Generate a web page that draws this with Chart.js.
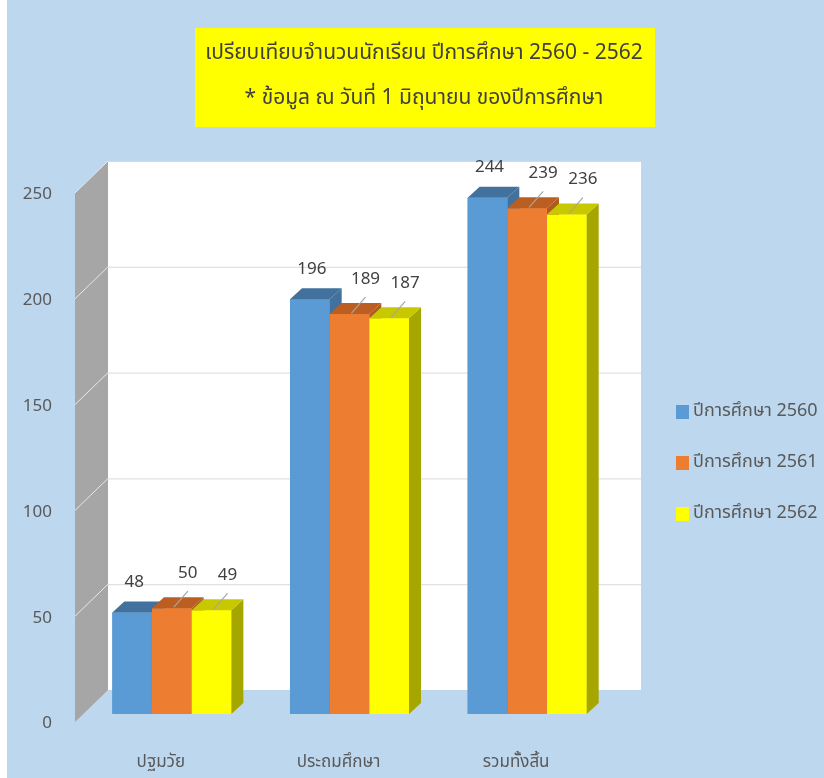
<!DOCTYPE html>
<html>
<head>
<meta charset="utf-8">
<script src="https://cdn.jsdelivr.net/npm/chart.js@4.4.0/dist/chart.umd.min.js"></script>
<style>
  html, body { margin: 0; padding: 0; background: #fff; }
</style>
</head>
<body>
<canvas id="chart" width="824" height="778"></canvas>
<script>
// Student count comparison, 3 school years (3D-look column chart)
const categories = ['ปฐมวัย', 'ประถมศึกษา', 'รวมทั้งสิ้น'];
const seriesNames = ['ปีการศึกษา 2560', 'ปีการศึกษา 2561', 'ปีการศึกษา 2562'];
const values2560 = [48, 196, 244];
const values2561 = [50, 189, 239];
const values2562 = [49, 187, 236];
const yTickValues = [0, 50, 100, 150, 200, 250];
const titleLines = [
  'เปรียบเทียบจำนวนนักเรียน ปีการศึกษา 2560 - 2562',
  '* ข้อมูล ณ วันที่ 1 มิถุนายน ของปีการศึกษา'
];

const FONT = 'Tahoma, "Noto Sans Thai", "Noto Sans", "DejaVu Sans", sans-serif';
const BG = '#BDD7EE';
const TEXT = '#595959';

// front / top / side colour for each series
const faceColors = [
  { front: '#5B9BD5', top: '#41719C', side: '#41719C' },
  { front: '#ED7D31', top: '#BA5E22', side: '#AE5A21' },
  { front: '#FFFF00', top: '#C8C800', side: '#A6A600' }
];

// depth of the box walls and bars
const WALL_DX = 25, WALL_DY = -24, FRONT_DX = -8, FRONT_DY = 8;
const BAR_DX = 12, BAR_DY = -11;

const wallsPlugin = {
  id: 'walls',
  beforeDraw(chart) {
    const { ctx, chartArea: a, scales: { y } } = chart;
    ctx.save();
    ctx.fillStyle = BG;
    ctx.fillRect(0, 0, chart.width, chart.height);
    ctx.fillStyle = '#ffffff';
    ctx.fillRect(0, 0, 7, chart.height);

    // title box
    ctx.fillStyle = '#FFFF00';
    ctx.fillRect(195, 28, 460, 99);
    ctx.fillStyle = '#404040';
    ctx.font = '21px ' + FONT;
    ctx.textAlign = 'center';
    ctx.textBaseline = 'middle';
    ctx.fillText(titleLines[0], 424, 55);
    ctx.fillText(titleLines[1], 424, 100);

    const top = y.getPixelForValue(y.max);
    const bottom = y.getPixelForValue(0);

    // back wall
    ctx.fillStyle = '#ffffff';
    ctx.fillRect(a.left + WALL_DX, top + WALL_DY, a.right - a.left, bottom - top);

    // side wall
    ctx.fillStyle = '#A6A6A6';
    ctx.beginPath();
    ctx.moveTo(a.left + FRONT_DX, top + FRONT_DY);
    ctx.lineTo(a.left + WALL_DX, top + WALL_DY);
    ctx.lineTo(a.left + WALL_DX, bottom + WALL_DY);
    ctx.lineTo(a.left + FRONT_DX, bottom + FRONT_DY);
    ctx.closePath();
    ctx.fill();

    // gridlines on back and side walls
    yTickValues.forEach(v => {
      if (v === 0) return;
      const py = y.getPixelForValue(v);
      ctx.strokeStyle = '#D9D9D9';
      ctx.lineWidth = 1;
      ctx.beginPath();
      ctx.moveTo(a.left + WALL_DX, py + WALL_DY + 0.5);
      ctx.lineTo(a.right + WALL_DX, py + WALL_DY + 0.5);
      ctx.stroke();
      ctx.strokeStyle = '#E8E8E8';
      ctx.beginPath();
      ctx.moveTo(a.left + FRONT_DX, py + FRONT_DY);
      ctx.lineTo(a.left + WALL_DX, py + WALL_DY);
      ctx.stroke();
    });
    ctx.restore();
  },
  afterDatasetsDraw(chart) {
    const { ctx } = chart;
    ctx.save();
    // paint bars back-to-front: front face (redrawn by the element), side, top
    chart.data.datasets.forEach((ds, i) => {
      const c = faceColors[i];
      chart.getDatasetMeta(i).data.forEach(bar => {
        bar.draw(ctx);
        const { x, y, base, width } = bar.getProps(['x', 'y', 'base', 'width'], true);
        const l = x - width / 2, r = x + width / 2;
        ctx.fillStyle = c.side;
        ctx.beginPath();
        ctx.moveTo(r, y);
        ctx.lineTo(r + BAR_DX, y + BAR_DY);
        ctx.lineTo(r + BAR_DX, base + BAR_DY);
        ctx.lineTo(r, base);
        ctx.closePath();
        ctx.fill();
        ctx.fillStyle = c.top;
        ctx.beginPath();
        ctx.moveTo(l, y);
        ctx.lineTo(l + BAR_DX, y + BAR_DY);
        ctx.lineTo(r + BAR_DX, y + BAR_DY);
        ctx.lineTo(r, y);
        ctx.closePath();
        ctx.fill();
      });
    });

    // value labels
    ctx.font = '17px ' + FONT;
    ctx.fillStyle = '#404040';
    ctx.textAlign = 'center';
    ctx.textBaseline = 'middle';
    chart.data.datasets.forEach((ds, i) => {
      chart.getDatasetMeta(i).data.forEach((bar, j) => {
        const { x, y } = bar.getProps(['x', 'y'], true);
        if (i === 0) {
          ctx.fillText(ds.data[j], x + 2, y - 29);
        } else {
          const lx = x + 16, ly = y - 34;
          ctx.strokeStyle = '#A6A6A6';
          ctx.lineWidth = 1.2;
          ctx.beginPath();
          ctx.moveTo(lx, ly + 17);
          ctx.lineTo(x + 2, y - 1);
          ctx.stroke();
          ctx.fillText(ds.data[j], lx, ly);
        }
      });
    });

    // legend
    ctx.font = '18px ' + FONT;
    ctx.textAlign = 'left';
    chart.data.datasets.forEach((ds, i) => {
      const cy = 412 + i * 51;
      ctx.fillStyle = ds.backgroundColor;
      ctx.fillRect(676, cy - 7, 13, 14);
      ctx.fillStyle = TEXT;
      ctx.fillText(ds.label, 693, cy);
    });
    ctx.restore();
  }
};

new Chart(document.getElementById('chart'), {
  type: 'bar',
  data: {
    labels: categories,
    datasets: [
      { label: seriesNames[0], data: values2560, backgroundColor: faceColors[0].front },
      { label: seriesNames[1], data: values2561, backgroundColor: faceColors[1].front },
      { label: seriesNames[2], data: values2562, backgroundColor: faceColors[2].front }
    ]
  },
  options: {
    responsive: false,
    animation: false,
    layout: { padding: { top: 185, right: 208, bottom: 0, left: 0 } },
    datasets: { bar: { categoryPercentage: 0.67, barPercentage: 1.0 } },
    plugins: {
      legend: { display: false },
      title: { display: false },
      tooltip: { enabled: false }
    },
    scales: {
      x: {
        grid: { display: false },
        border: { display: false },
        ticks: { color: TEXT, font: { family: FONT, size: 17 }, padding: 31, labelOffset: -11 },
        afterFit: s => { s.height = 64; }
      },
      y: {
        min: 0,
        max: 250,
        grid: { display: false },
        border: { display: false },
        ticks: { stepSize: 50, color: TEXT, font: { family: FONT, size: 17 }, padding: 23, labelOffset: 11 },
        afterFit: s => { s.width = 83; }
      }
    }
  },
  plugins: [wallsPlugin]
});
</script>
</body>
</html>
